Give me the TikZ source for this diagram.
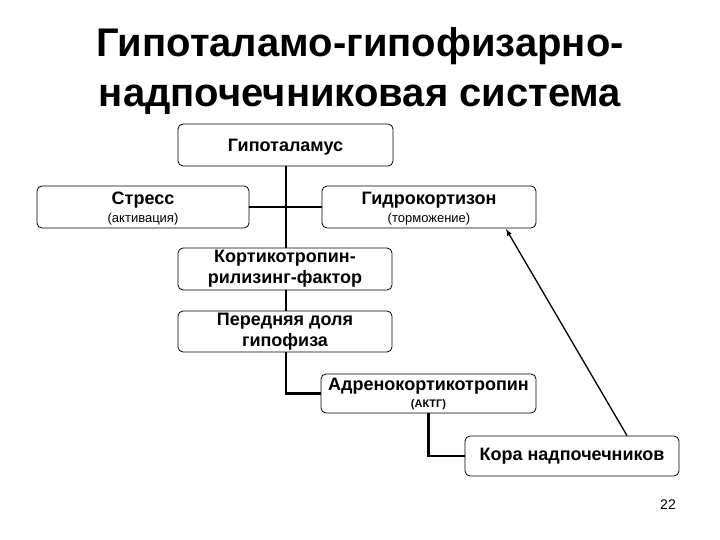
\documentclass[tikz,border=0pt]{standalone}
\usepackage{fontspec}
\setmainfont{Liberation Sans}
\begin{document}
\begin{tikzpicture}[x=1pt,y=-1pt,
  box/.style={draw,rounded corners=5pt,thick,inner sep=0pt,align=center},
  conn/.style={line width=2.5pt},
  lab/.style={font=\bfseries\fontsize{18}{20}\selectfont},
  sub/.style={font=\fontsize{13}{15}\selectfont}]
\useasboundingbox (0,0) rectangle (720,540);
\node[font=\bfseries\fontsize{40}{50}\selectfont,align=center] (title) at (360,71) {Гипоталамо-гипофизарно-\\надпочечниковая система};
\node[box,minimum width=215pt,minimum height=42pt] (hyp) at (285.5,145) {};
\node[lab] at (285.5,147) {Гипоталамус};
\node[box,minimum width=212pt,minimum height=42pt] (str) at (143,207) {};
\node[lab] at (143,200) {Стресс};
\node[sub] at (143,219) {(активация)};
\node[box,minimum width=214pt,minimum height=42pt] (hc) at (429,207) {};
\node[lab] at (429,200) {Гидрокортизон};
\node[sub] at (429,219) {(торможение)};
\node[box,minimum width=214pt,minimum height=42pt,font=\bfseries\fontsize{18}{21}\selectfont] (crf) at (285,269) {Кортикотропин-\\рилизинг-фактор};
\node[box,minimum width=214pt,minimum height=41pt,font=\bfseries\fontsize{18}{21}\selectfont] (ant) at (285,331.5) {Передняя доля\\гипофиза};
\node[box,minimum width=215pt,minimum height=39pt] (acth) at (428.5,393.5) {};
\node[lab] at (428.5,386) {Адренокортикотропин};
\node[font=\bfseries\fontsize{11}{13}\selectfont] at (428.5,405) {(АКТГ)};
\node[box,minimum width=214pt,minimum height=40pt,lab] (cort) at (572,456) {Кора надпочечников};
\node[font=\fontsize{14}{16}\selectfont] (pg) at (668,505) {22};
\coordinate (hj) at (286,208);
\draw[conn] (hyp.south -| hj) -- (crf.north -| hj);
\draw[conn] (str.east) -- (hc.west);
\draw[conn] (crf.south -| hj) -- (ant.north -| hj);
\draw[conn] (ant.south -| hj) |- (acth.west);
\draw[conn] (acth.south) |- (cort.west);
\draw[line width=1.3pt,-latex] (cort.north -| 627,0) -- (506,229);
\end{tikzpicture}
\end{document}
